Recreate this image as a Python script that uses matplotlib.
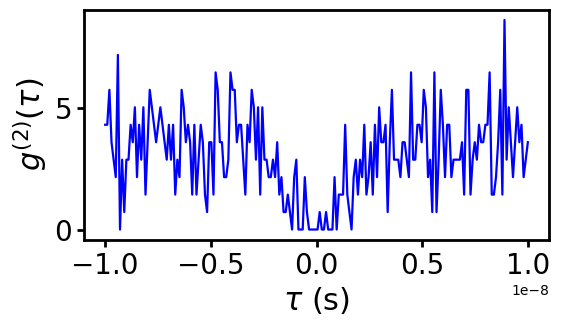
import matplotlib
matplotlib.use("Agg")
import matplotlib.pyplot as plt
import numpy as np
from matplotlib.ticker import MultipleLocator

# g2 values come in steps of one coincidence-count level (0.72)
LEVEL = 0.72
counts = [
    6, 6, 8, 5, 4, 3, 10, 0, 4, 1, 4, 4, 6, 5, 7, 3, 6, 4, 7, 2,
    5, 8, 7, 6, 5, 6, 7, 6, 5, 4, 6, 4, 6, 2, 4, 3, 8, 7, 5, 6,
    5, 2, 6, 2, 4, 6, 5, 2, 1, 5, 5, 2, 9, 8, 5, 5, 3, 3, 4, 9,
    8, 8, 5, 6, 6, 4, 2, 6, 5, 8, 7, 4, 7, 2, 7, 4, 4, 3, 3, 4,
    3, 5, 2, 3, 1, 1, 2, 1, 0, 3, 4, 0, 0, 0, 3, 1, 0, 0, 0, 0,
    0, 1, 0, 0, 1, 0, 0, 0, 3, 0, 2, 2, 2, 6, 2, 1, 0, 3, 4, 2,
    4, 3, 6, 2, 3, 5, 2, 6, 3, 7, 5, 5, 6, 1, 5, 8, 4, 4, 4, 3,
    5, 5, 4, 3, 9, 4, 4, 6, 6, 5, 8, 7, 3, 4, 1, 9, 1, 4, 8, 6,
    3, 6, 6, 3, 4, 4, 4, 4, 5, 2, 8, 8, 2, 4, 5, 4, 6, 5, 5, 6,
    6, 9, 2, 2, 3, 5, 8, 2, 12, 4, 7, 5, 3, 5, 7, 5, 6, 3, 4, 5,
]
tau = np.linspace(-1e-8, 1e-8, len(counts))
g2 = np.array(counts) * LEVEL

fig = plt.figure(figsize=(5.61, 3.26), dpi=100)
ax = fig.add_axes([84 / 561, 1 - 240 / 326, 465 / 561, 230.5 / 326])
ax.plot(tau, g2, color="blue", lw=1.6)

ax.yaxis.set_major_locator(MultipleLocator(5))
ax.tick_params(labelsize=20, width=2, length=5)
for sp in ax.spines.values():
    sp.set_linewidth(2)
ax.set_xlabel(r"$\tau$ (s)", fontsize=22)
ax.set_ylabel(r"$g^{(2)}(\tau)$", fontsize=22)

fig.savefig("out.png", dpi=100)
